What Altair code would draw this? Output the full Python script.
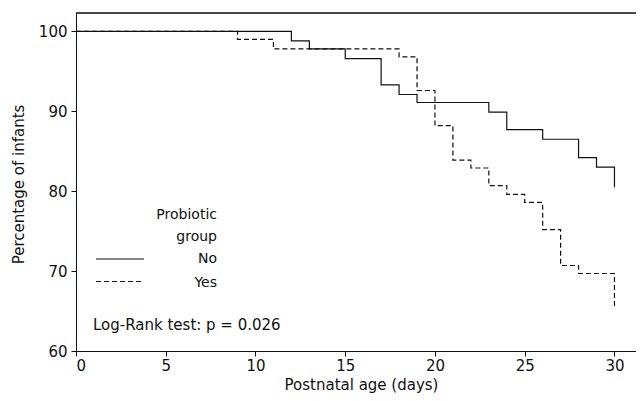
import altair as alt
import pandas as pd

# Kaplan-Meier steps
no_days = [0, 12, 13, 15, 17, 18, 19, 23, 24, 26, 28, 29, 30]
no_pct = [100, 98.8, 97.8, 96.6, 93.3, 92.1, 91.1, 89.9, 87.7, 86.5, 84.2, 83.0, 80.5]
yes_days = [0, 9, 11, 18, 19, 20, 21, 22, 23, 24, 25, 26, 27, 28, 30]
yes_pct = [100, 99.0, 97.8, 96.8, 92.6, 88.2, 83.9, 82.9, 80.7, 79.6, 78.6, 75.2, 70.7, 69.7, 65.4]

x_ticks = [0, 5, 10, 15, 20, 25, 30]
y_ticks = [60, 70, 80, 90, 100]

FONT = "DejaVu Sans"
FS = 15
W, H = 560, 338
INK = "#111111"

rows = [{"day": d, "pct": p, "group": "No"} for d, p in zip(no_days, no_pct)]
rows += [{"day": d, "pct": p, "group": "Yes"} for d, p in zip(yes_days, yes_pct)]
df = pd.DataFrame(rows)

x_scale = alt.Scale(domain=[0, 31.2], nice=False, zero=False)
y_scale = alt.Scale(domain=[60, 102.3], nice=False, zero=False)

x_enc = alt.X("day:Q", scale=x_scale,
              axis=alt.Axis(values=x_ticks, title="Postnatal age  (days)", grid=False,
                            tickSize=5, labelPadding=2, labelFontSize=FS, titleFontSize=15,
                            titleFontWeight="normal", labelFont=FONT, titleFont=FONT,
                            titleX=285, titleY=33, titleBaseline="middle",
                            domainColor=INK, tickColor=INK, labelColor=INK, titleColor=INK))
y_enc = alt.Y("pct:Q", scale=y_scale,
              axis=alt.Axis(values=y_ticks, title="Percentage of infants", grid=False,
                            tickSize=5, labelPadding=4, labelFontSize=FS, titleFontSize=FS,
                            titleFontWeight="normal", labelFont=FONT, titleFont=FONT,
                            titleX=-58, titleY=171, titleBaseline="middle", titleAngle=-90,
                            domainColor=INK, tickColor=INK, labelColor=INK, titleColor=INK))

no_line = alt.Chart(df).transform_filter(alt.datum.group == "No").mark_line(
    interpolate="step-after", color=INK, strokeWidth=1.2
).encode(x=x_enc, y=y_enc)

yes_line = alt.Chart(df).transform_filter(alt.datum.group == "Yes").mark_line(
    interpolate="step-after", color=INK, strokeWidth=1.2, strokeDash=[5, 3]
).encode(x=x_enc, y=y_enc)

base = alt.Chart(pd.DataFrame({"k": [0]}))

top_rule = base.mark_rule(color=INK, strokeWidth=1.5).encode(
    x=alt.value(0), x2=alt.value(W), y=alt.value(0))

leg_no = base.mark_rule(color=INK, strokeWidth=1.2).encode(
    x=alt.value(20), x2=alt.value(68), y=alt.value(246))
leg_yes = base.mark_rule(color=INK, strokeWidth=1.2, strokeDash=[5, 3]).encode(
    x=alt.value(20), x2=alt.value(68), y=alt.value(268.5))

def label(text, x, y, align="right", size=14):
    return base.mark_text(text=text, align=align, baseline="middle", font=FONT,
                          fontSize=size, color=INK).encode(x=alt.value(x), y=alt.value(y))

texts = [
    label("Probiotic", 141, 202),
    label("group", 141, 224),
    label("No", 141, 246),
    label("Yes", 141, 269.5),
    label("Log-Rank test: p = 0.026", 17, 312, align="left", size=15),
]

chart = alt.layer(no_line, yes_line, top_rule, leg_no, leg_yes, *texts).properties(
    width=W, height=H,
    autosize=alt.AutoSizeParams(type="none"),
    padding={"left": 68, "top": 5, "right": 0, "bottom": 42},
).configure_view(stroke=None).configure(background="white")

chart.save("out.html", embed_options={"renderer": "svg", "actions": False})
